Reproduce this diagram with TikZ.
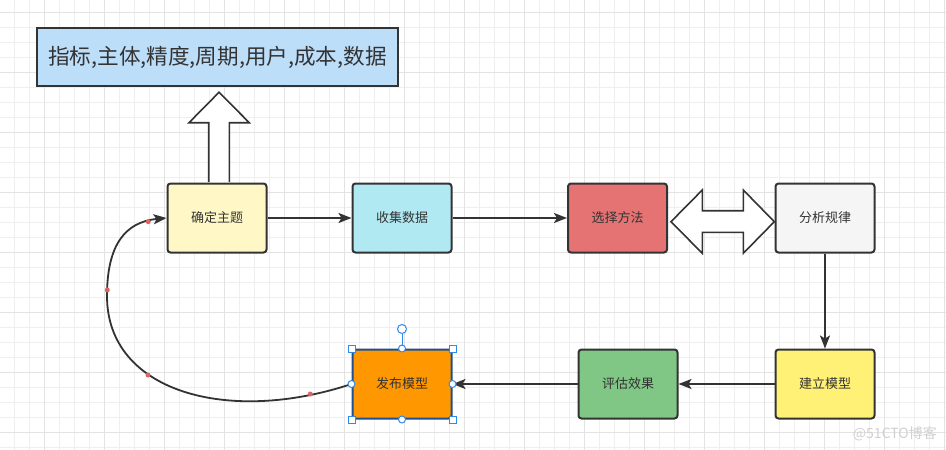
\documentclass[tikz,border=0pt]{standalone}
\usepackage{fontspec}
\setmainfont{Noto Sans CJK SC}
\usetikzlibrary{arrows.meta}
\definecolor{ink}{HTML}{333333}
\definecolor{gminor}{HTML}{EFEFEF}
\definecolor{gmajor}{HTML}{E3E3E3}
\definecolor{cblue}{HTML}{BDDEF9}
\definecolor{cyel}{HTML}{FFF8C6}
\definecolor{ccyan}{HTML}{B1E9F2}
\definecolor{cred}{HTML}{E57373}
\definecolor{cgray}{HTML}{F5F5F5}
\definecolor{cyel2}{HTML}{FFF176}
\definecolor{cgreen}{HTML}{80C684}
\definecolor{corange}{HTML}{FF9800}
\definecolor{selborder}{HTML}{1F4F8F}
\definecolor{hblue}{HTML}{2E8BEA}
\definecolor{wpt}{HTML}{DB6565}
\definecolor{wmark}{HTML}{D0D0D0}
\tikzset{
  proc/.style={draw=ink, line width=2pt, rounded corners=3pt, minimum width=99pt, minimum height=69pt, inner sep=0pt, text=ink, font=\fontsize{13}{15}\selectfont},
  conn/.style={draw=ink, line width=1.8pt, -{Stealth[length=13pt,width=10pt,inset=3pt]}},
  blockarrow/.style={draw=ink, line width=1.6pt, fill=white, line join=miter},
  hsq/.style={draw=hblue, fill=white, line width=1pt, minimum size=7pt, inner sep=0pt, rectangle},
  hci/.style={draw=hblue, fill=white, line width=1pt, minimum size=7pt, inner sep=0pt, circle},
  wdot/.style={fill=wpt, circle, inner sep=0pt, minimum size=5pt}
}
\begin{document}
\begin{tikzpicture}[x=1pt,y=-1pt]
\useasboundingbox (0,0) rectangle (946,450);
\fill[white] (0,0) rectangle (946,450);
% grid
\foreach \i in {0,...,62} {\draw[gminor, line width=1pt] (14.5+15*\i,0) -- (14.5+15*\i,450);}
\foreach \i in {0,...,29} {\draw[gminor, line width=1pt] (0,12.3+15*\i) -- (946,12.3+15*\i);}
\foreach \i in {0,...,15} {\draw[gmajor, line width=1pt] (44.5+60*\i,0) -- (44.5+60*\i,450);}
\foreach \i in {0,...,7} {\draw[gmajor, line width=1pt] (0,12.3+60*\i) -- (946,12.3+60*\i);}

% top box
\node[draw=ink, line width=2pt, fill=cblue, minimum width=361pt, minimum height=58pt, inner sep=0pt, text=ink, font=\fontsize{21.6}{25}\selectfont] (tb) at (217.5,57) {指标,主体,精度,周期,用户,成本,数据};

% process boxes
\node[proc, fill=cyel] (qd) at (217,218) {确定主题};
\node[proc, fill=ccyan] (sj) at (402,218) {收集数据};
\node[proc, fill=cred] (xz) at (617.5,218) {选择方法};
\node[proc, fill=cgray] (fx) at (825,218) {分析规律};
\node[proc, fill=cyel2] (jl) at (825,384) {建立模型};
\node[proc, fill=cgreen] (pg) at (628,384) {评估效果};
\node[proc, fill=corange, draw=selborder] (fb) at (402,384) {发布模型};

% big up arrow
\draw[blockarrow] (208.7,182) -- (208.7,122.7) -- (189,122.7) -- (219,92.3) -- (249.3,122.7) -- (229.3,122.7) -- (229.3,182);

% double arrow
\draw[blockarrow] (671,221.7) -- (702.3,190) -- (702.3,210.7) -- (743.3,210.7) -- (743.3,190) -- (774.3,221.7) -- (743.3,253.3) -- (743.3,232.3) -- (702.3,232.3) -- (702.3,253.3) -- cycle;

% connectors
\draw[conn] (qd.east) -- (sj.west);
\draw[conn] (sj.east) -- (xz.west);
\draw[conn] (fx.south) -- (jl.north);
\draw[conn] (jl.west) -- (pg.east);
\draw[conn] (pg.west) -- (fb.east);
\coordinate (lft) at (107,296);
\draw[conn] (fb.west) .. controls (228,425) and (107,392) .. (lft) .. controls (107,245) and (125,222) .. (qd.west);

% waypoints
\node[wdot] (w1) at (148.3,221.7) {};
\node[wdot] (w2) at (107.3,290) {};
\node[wdot] (w3) at (148,375) {};
\node[wdot] (w4) at (310.3,394) {};

% selection handles
\node[hci, minimum size=9pt] (rot) at (402,329) {};
\draw[hblue, line width=1pt] (rot.south) -- (fb.north);
\node[hsq] (h1) at (fb.north west) {};
\node[hsq] (h2) at (fb.north east) {};
\node[hsq] (h3) at (fb.south west) {};
\node[hsq] (h4) at (fb.south east) {};
\node[hci] (h5) at (fb.north) {};
\node[hci] (h6) at (fb.south) {};
\node[hci] (h7) at (fb.west) {};
\node[hci] (h8) at (fb.east) {};

% watermark
\node[text=wmark, font=\fontsize{14}{16}\selectfont, anchor=east, inner sep=0pt] (wm) at (937,434) {@51CTO博客};
\end{tikzpicture}
\end{document}
